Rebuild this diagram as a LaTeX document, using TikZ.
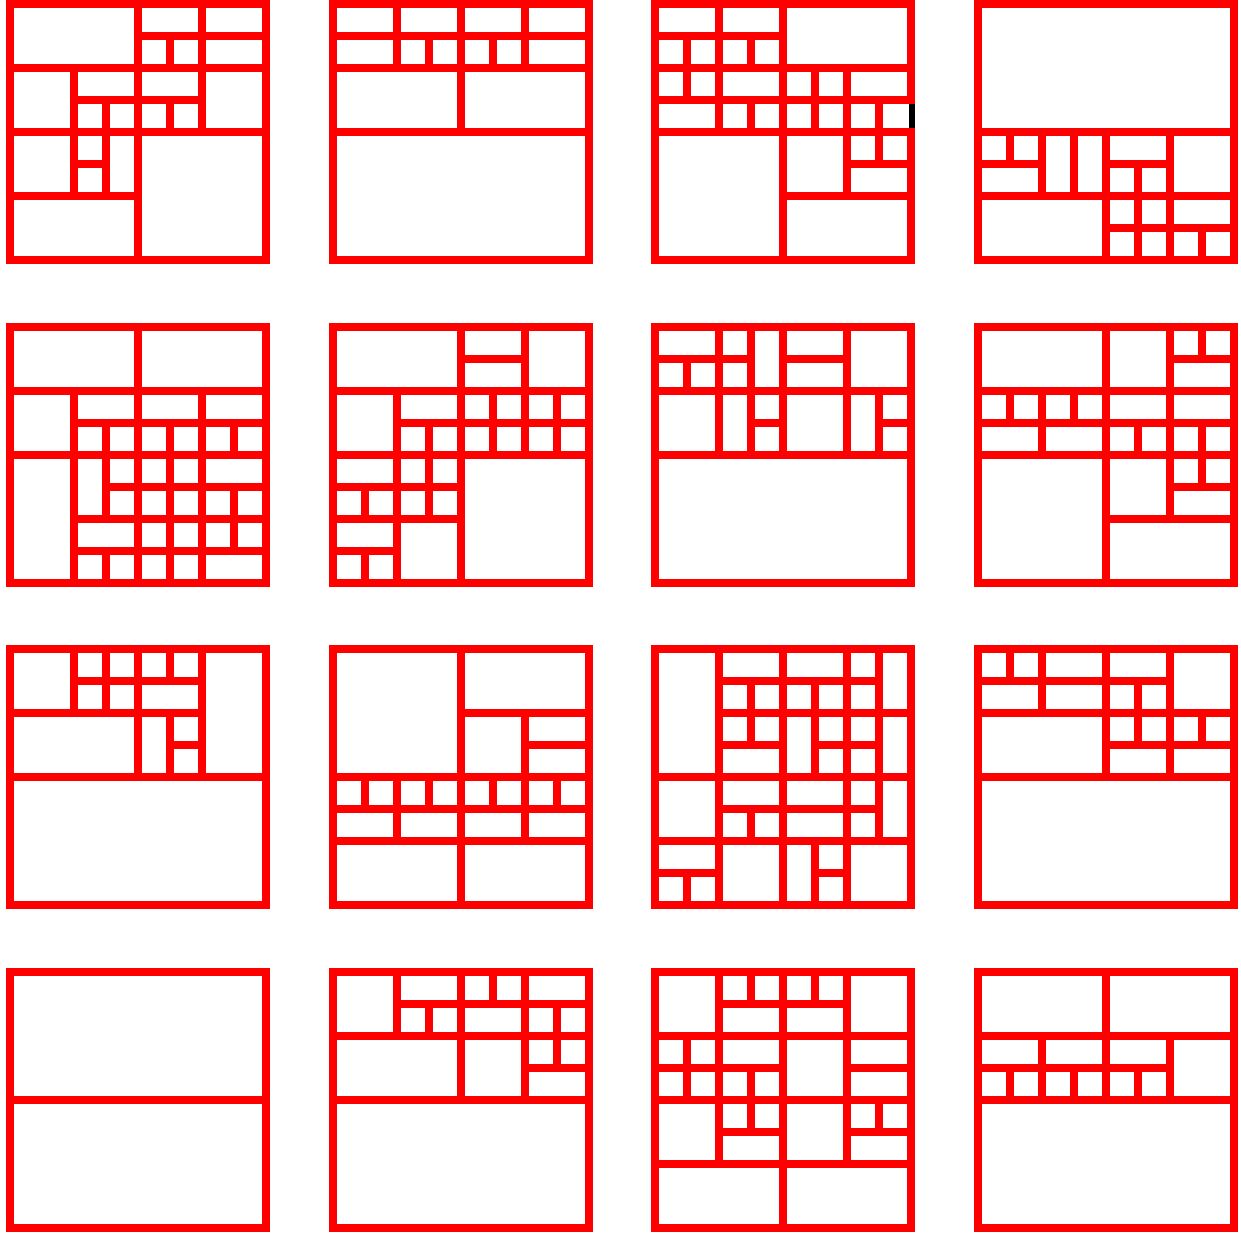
\documentclass[tikz,border=0pt]{standalone}
\tikzset{gl/.style={draw=red,line width=8pt}}
\newcommand\qpanel[4]{%
\begin{scope}[shift={(#1pt,-#2pt)},x=32pt,y=-32pt]
\draw[gl] (0,0) rectangle (8,8);
\foreach \qy/\qa/\qb in {#3} {\draw[gl] (\qa,\qy) -- (\qb,\qy);}
\foreach \qx/\qa/\qb in {#4} {\draw[gl] (\qx,\qa) -- (\qx,\qb);}
\end{scope}}
\begin{document}
\begin{tikzpicture}[x=1pt,y=-1pt]
\useasboundingbox (0,0) rectangle (1241,1232);
% row 1
\qpanel{10}{4}{1/4/8, 2/0/8, 3/2/6, 4/0/8, 5/2/3, 6/0/4}{2/2/6, 3/3/6, 4/0/8, 5/1/2, 5/3/4, 6/0/4}
\qpanel{332.67}{4}{1/0/8, 2/0/8, 4/0/8}{2/0/2, 3/1/2, 4/0/4, 5/1/2, 6/0/2}
\qpanel{655.33}{4}{1/0/4, 2/0/8, 3/0/8, 4/0/8, 5/6/8, 6/4/8}{1/1/3, 2/0/4, 3/1/2, 3/3/4, 4/0/8, 5/2/4, 6/2/6, 7/3/5}
\qpanel{978}{4}{4/0/8, 5/0/2, 5/4/6, 6/0/8, 7/4/8}{1/4/5, 2/4/6, 3/4/6, 4/4/8, 5/5/8, 6/4/8, 7/7/8}
% row 2
\qpanel{10}{326.67}{2/0/8, 3/2/8, 4/0/8, 5/3/8, 6/2/8, 7/2/8}{2/2/8, 3/3/6, 3/7/8, 4/0/8, 5/3/8, 6/2/8, 7/3/4, 7/5/7}
\qpanel{332.67}{326.67}{1/4/6, 2/0/8, 3/2/8, 4/0/8, 5/0/4, 6/0/4, 7/0/2}{1/5/6, 1/7/8, 2/2/8, 3/3/6, 4/0/8, 5/2/4, 6/0/4, 7/2/4}
\qpanel{655.33}{326.67}{1/0/3, 1/4/6, 2/0/8, 3/3/4, 3/7/8, 4/0/8}{1/1/2, 2/0/4, 3/0/4, 4/0/4, 6/0/4, 7/2/4}
\qpanel{978}{326.67}{1/6/8, 2/0/8, 3/0/8, 4/0/8, 5/6/8, 6/4/8}{1/2/3, 2/2/4, 3/2/3, 4/0/8, 5/3/4, 6/0/6, 7/0/1, 7/3/5}
% row 3
\qpanel{10}{649.33}{1/2/6, 2/0/6, 3/5/6, 4/0/8}{2/0/2, 3/0/2, 4/0/4, 5/0/1, 5/2/4, 6/0/4}
\qpanel{332.67}{649.33}{2/4/8, 3/6/8, 4/0/8, 5/0/8, 6/0/8}{1/4/5, 2/4/6, 3/4/5, 4/0/8, 5/4/5, 6/2/6, 7/4/5}
\qpanel{655.33}{649.33}{1/2/7, 2/2/8, 3/2/4, 3/5/7, 4/0/8, 5/2/7, 6/0/8, 7/0/2, 7/5/6}{1/7/8, 2/0/8, 3/1/3, 3/5/6, 4/0/8, 5/1/4, 5/6/8, 6/0/8, 7/0/6}
\qpanel{978}{649.33}{1/0/6, 2/0/8, 3/4/8, 4/0/8}{1/0/1, 2/0/2, 4/0/4, 5/1/3, 6/0/4, 7/2/3}
% row 4
\qpanel{10}{972}{4/0/8}{0/0/8}
\qpanel{332.67}{972}{1/2/8, 2/0/8, 3/6/8, 4/0/8}{2/0/2, 3/1/2, 4/0/4, 5/0/1, 6/0/4, 7/1/3}
\qpanel{655.33}{972}{1/2/6, 2/0/8, 3/0/4, 3/6/8, 4/0/8, 5/2/4, 5/6/8, 6/0/8}{1/2/4, 2/0/6, 3/0/1, 3/3/5, 4/0/8, 5/0/1, 6/0/6, 7/4/5}
\qpanel{978}{972}{2/0/8, 3/0/6, 4/0/8}{1/3/4, 2/2/4, 3/3/4, 4/0/4, 5/3/4, 6/2/4}
% black mark on the right border of the third panel
\fill[white] (906.5,104) rectangle (915,128);
\fill[black] (908.5,104) rectangle (914.5,128);
\end{tikzpicture}
\end{document}
